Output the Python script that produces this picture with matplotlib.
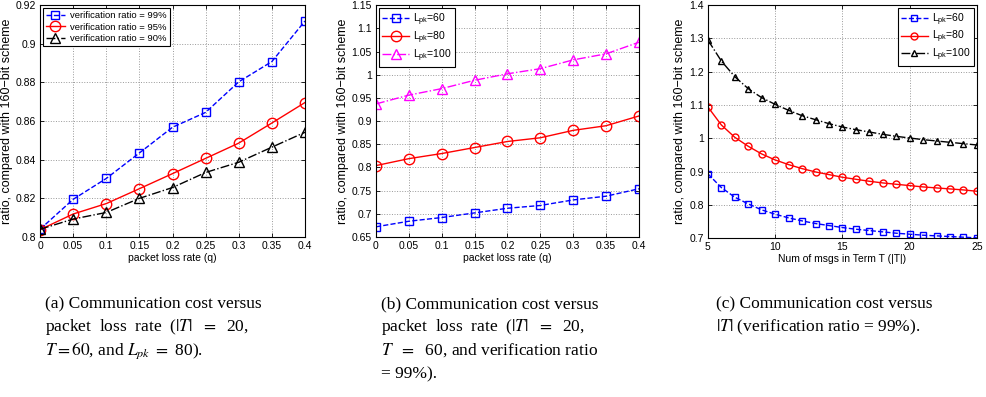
import matplotlib
matplotlib.use("Agg")
import matplotlib.pyplot as plt

# ---- data ----
q = [0, 0.05, 0.1, 0.15, 0.2, 0.25, 0.3, 0.35, 0.4]
a_vr99 = [0.804, 0.8195, 0.8303, 0.8435, 0.8568, 0.8645, 0.8803, 0.8908, 0.9118]
a_vr95 = [0.8038, 0.8119, 0.8173, 0.8250, 0.8328, 0.8407, 0.8486, 0.8590, 0.8696]
a_vr90 = [0.8040, 0.8093, 0.8127, 0.8200, 0.8256, 0.8334, 0.8387, 0.8465, 0.8542]

b_l60 = [0.672, 0.684, 0.692, 0.702, 0.712, 0.718, 0.730, 0.738, 0.754]
b_l80 = [0.804, 0.819, 0.830, 0.843, 0.856, 0.864, 0.880, 0.890, 0.911]
b_l100 = [0.937, 0.956, 0.970, 0.988, 1.002, 1.013, 1.032, 1.045, 1.070]

T = list(range(5, 26))
c_l60 = [0.893, 0.852, 0.823, 0.803, 0.785, 0.772, 0.761, 0.752, 0.744, 0.738,
         0.732, 0.727, 0.723, 0.719, 0.715, 0.712, 0.709, 0.707, 0.705, 0.703, 0.701]
c_l80 = [1.094, 1.040, 1.003, 0.976, 0.953, 0.935, 0.921, 0.909, 0.899, 0.891,
         0.883, 0.877, 0.871, 0.866, 0.862, 0.858, 0.854, 0.851, 0.848, 0.845, 0.841]
c_l100 = [1.295, 1.232, 1.185, 1.149, 1.122, 1.102, 1.084, 1.068, 1.056, 1.044,
          1.034, 1.026, 1.019, 1.012, 1.006, 1.001, 0.996, 0.992, 0.988, 0.984, 0.980]

a_labels = ["verification ratio = 99%", "verification ratio = 95%", "verification ratio = 90%"]
l_labels = [r"L$_{\mathregular{pk}}$=60", r"L$_{\mathregular{pk}}$=80", r"L$_{\mathregular{pk}}$=100"]

ylab = "ratio, compared with 160\u2212bit scheme"

plt.rcParams['font.family'] = ['Liberation Sans', 'DejaVu Sans']
plt.rcParams['mathtext.fontset'] = 'custom'
plt.rcParams['mathtext.rm'] = 'Liberation Sans'
plt.rcParams['mathtext.it'] = 'Liberation Sans:italic'

fig = plt.figure(figsize=(9.86, 3.97), dpi=100)

fs = 7.5
yfs = 9

def style(ax):
    ax.grid(True, linestyle=':', color='#999999', linewidth=0.7)
    ax.tick_params(direction='in', top=True, right=True, labelsize=fs, length=3, width=0.6, pad=3)
    for s in ax.spines.values():
        s.set_linewidth(0.8)

# (a)
ax1 = fig.add_axes([0.0406, 0.403, 0.2687, 0.584])
ax1.plot(q, a_vr99, '--s', color='#0000ff', mfc='none', ms=6, lw=1, label=a_labels[0])
ax1.plot(q, a_vr95, '-o', color='#ff0000', mfc='none', ms=7.5, lw=1, label=a_labels[1])
ax1.plot(q, a_vr90, '-.^', color='black', mfc='none', ms=7.5, lw=1, label=a_labels[2])
ax1.set_xlim(0, 0.4)
ax1.set_ylim(0.8, 0.92)
ax1.set_xticks(q)
ax1.set_xticklabels(['0', '0.05', '0.1', '0.15', '0.2', '0.25', '0.3', '0.35', '0.4'])
ax1.set_yticks([0.8, 0.82, 0.84, 0.86, 0.88, 0.9, 0.92])
ax1.set_yticklabels(['0.8', '0.82', '0.84', '0.86', '0.88', '0.9', '0.92'])
ax1.set_xlabel('packet loss rate (q)', fontsize=fs, labelpad=1)
ax1.set_ylabel(ylab, fontsize=yfs, labelpad=2)
style(ax1)
leg = ax1.legend(loc='upper left', fontsize=6.8, frameon=True, fancybox=False,
                 edgecolor='black', framealpha=1, borderpad=0.3, labelspacing=0.3,
                 handlelength=2.0, handletextpad=0.6, borderaxespad=0.3)
leg.get_frame().set_linewidth(0.8)

# (b)
ax2 = fig.add_axes([0.3813, 0.403, 0.2667, 0.584])
ax2.plot(q, b_l60, '--s', color='#0000ff', mfc='none', ms=6, lw=1, label=l_labels[0])
ax2.plot(q, b_l80, '-o', color='#ff0000', mfc='none', ms=7.5, lw=1, label=l_labels[1])
ax2.plot(q, b_l100, '-.^', color='#ff00ff', mfc='none', ms=7.5, lw=1, label=l_labels[2])
ax2.set_xlim(0, 0.4)
ax2.set_ylim(0.65, 1.15)
ax2.set_xticks(q)
ax2.set_xticklabels(['0', '0.05', '0.1', '0.15', '0.2', '0.25', '0.3', '0.35', '0.4'])
yt = [0.65, 0.7, 0.75, 0.8, 0.85, 0.9, 0.95, 1.0, 1.05, 1.1, 1.15]
ax2.set_yticks(yt)
ax2.set_yticklabels(['0.65', '0.7', '0.75', '0.8', '0.85', '0.9', '0.95', '1', '1.05', '1.1', '1.15'])
ax2.set_xlabel('packet loss rate (q)', fontsize=fs, labelpad=1)
ax2.set_ylabel(ylab, fontsize=yfs, labelpad=2)
style(ax2)
leg = ax2.legend(loc='upper left', fontsize=7.5, frameon=True, fancybox=False,
                 edgecolor='black', framealpha=1, borderpad=0.3, labelspacing=0.15,
                 handlelength=2.6, handletextpad=0.4, borderaxespad=0.3)
leg.get_frame().set_linewidth(0.8)

# (c)
ax3 = fig.add_axes([0.718, 0.400, 0.2728, 0.587])
ax3.plot(T, c_l60, '--s', color='#0000ff', mfc='none', ms=4, lw=1, label=l_labels[0])
ax3.plot(T, c_l80, '-o', color='#ff0000', mfc='none', ms=5, lw=1, label=l_labels[1])
ax3.plot(T, c_l100, '-.^', color='black', mfc='none', ms=5, lw=1, label=l_labels[2])
ax3.set_xlim(5, 25)
ax3.set_ylim(0.7, 1.4)
ax3.set_xticks([5, 10, 15, 20, 25])
ax3.set_yticks([0.7, 0.8, 0.9, 1.0, 1.1, 1.2, 1.3, 1.4])
ax3.set_yticklabels(['0.7', '0.8', '0.9', '1', '1.1', '1.2', '1.3', '1.4'])
ax3.set_xlabel('Num of msgs in Term T (|T|)', fontsize=fs, labelpad=1)
ax3.set_ylabel(ylab, fontsize=yfs, labelpad=2)
style(ax3)
leg = ax3.legend(loc='upper right', fontsize=7.5, frameon=True, fancybox=False,
                 edgecolor='black', framealpha=1, borderpad=0.3, labelspacing=0.1,
                 handlelength=2.6, handletextpad=0.4, borderaxespad=0.3)
leg.get_frame().set_linewidth(0.8)

# captions
cfs = 12.5
cap_kw = dict(fontsize=cfs, family='Liberation Serif', va='baseline', ha='left',
              math_fontfamily='stix')
def cap(x, y, s):
    fig.text(x / 986, 1 - y / 397, s, **cap_kw)

cap(45, 308, "(a) Communication cost versus")
cap(45, 331, r"packet  loss  rate  ($|T|$  $=$  20,")
cap(45, 355, r"$T = 60$, and $L_{pk}$ $=$ 80).")
cap(381, 308, "(b) Communication cost versus")
cap(381, 331, r"packet  loss  rate  ($|T|$  $=$  20,")
cap(381, 355, r"$T$  $=$  60, and verification ratio")
cap(381, 378, r"= 99%).")
cap(716, 308, "(c) Communication cost versus")
cap(716, 331, r"$|T|$ (verification ratio = 99%).")

fig.savefig("out.png", dpi=100)
